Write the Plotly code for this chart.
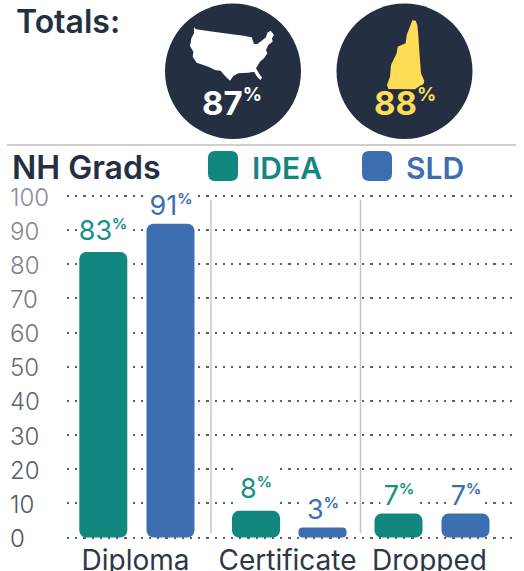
import plotly.graph_objects as go

# ---- data ----
groups = ["Diploma", "Certificate", "Dropped"]
idea_values = [83.6, 7.8, 7.0]
sld_values = [91.9, 2.9, 7.0]
idea_labels = ["83", "8", "7"]
sld_labels = ["91", "3", "7"]
totals_labels = ["87", "88"]
y_ticks = [100, 90, 80, 70, 60, 50, 40, 30, 20, 10, 0]
y_tick_colors = ["#8b8b98", "#858692", "#7d7e8b", "#767785", "#6f717f", "#686a79",
                 "#626574", "#5c5f6e", "#565a6a", "#515566", "#4c5062"]

# ---- layout constants (pixel geometry of the page) ----
W, H = 524, 571
L, R, T, B = 67, 513, 192, 541
Y100, Y0 = 196, 537.5
PX_PER_UNIT = (Y0 - Y100) / 100
DARK, TEAL, BLUE, YELLOW = "#252f42", "#128780", "#3d6eb0", "#ffdc55"
TEAL_TXT = "#149187"
FONT = "Inter"
idea_x = [103.3, 256, 398.5]
sld_x = [170.5, 322.5, 465.5]
tick_x = [135.5, 287.5, 429.5]
idea_gap = [10, 11, 7]
sld_gap = [7, 7, 7]


def px(x):
    return (x - L) / (R - L)


def py(y):
    return (B - y) / (B - T)


def path(points):
    return "M " + " L ".join(f"{px(x):.4f},{py(y):.4f}" for x, y in points) + " Z"


def rrect(x0, y0, x1, y1, r):
    a, b, c, d = px(x0), py(y0), px(x1), py(y1)
    rx, ry = r / (R - L), r / (B - T)
    return (f"M {a+rx},{b} L {c-rx},{b} Q {c},{b} {c},{b-ry} L {c},{d+ry} Q {c},{d} {c-rx},{d} "
            f"L {a+rx},{d} Q {a},{d} {a},{d+ry} L {a},{b-ry} Q {a},{b} {a+rx},{b} Z")


us_outline = [(42, 22), (48, 28), (100, 35), (150, 42), (190, 47), (215, 52), (222, 72), (232, 72),
              (245, 62), (258, 52), (262, 38), (272, 32), (282, 45), (276, 55), (278, 65), (265, 75),
              (258, 90), (262, 100), (252, 115), (240, 125), (228, 145), (238, 162), (246, 172),
              (242, 180), (232, 172), (222, 155), (205, 158), (175, 160), (160, 168), (150, 182),
              (135, 168), (122, 152), (105, 150), (85, 140), (50, 128), (38, 110), (40, 95), (30, 78),
              (34, 55), (42, 40)]
nh_outline = [(112, 16), (122, 17), (127, 30), (130, 60), (133, 110), (138, 175), (148, 198), (145, 208),
              (135, 212), (120, 223), (40, 222), (36, 210), (45, 185), (48, 150), (65, 115), (68, 95),
              (92, 85), (95, 60), (103, 40)]
us_px = [(180 + x / 3, 20 + y / 3) for x, y in us_outline]
nh_px = [(375 + x / 3, 15 + y / 3) for x, y in nh_outline]

fig = go.Figure()
for xs, vals, color in ((idea_x, idea_values, TEAL), (sld_x, sld_values, BLUE)):
    fig.add_trace(go.Bar(x=xs, y=vals, base=[0] * len(vals), width=48, marker_color=color, marker_line_width=0,
                         marker_cornerradius=7, hoverinfo="skip", showlegend=False))

shapes = []
for cx in (233, 404.5):
    shapes.append(dict(type="circle", xref="paper", yref="paper", x0=px(cx - 68), x1=px(cx + 68),
                       y0=py(139), y1=py(3.5), fillcolor=DARK, line_width=0))
shapes.append(dict(type="path", xref="paper", yref="paper", path=path(us_px), fillcolor="white", line_width=0))
shapes.append(dict(type="path", xref="paper", yref="paper", path=path(nh_px), fillcolor=YELLOW, line_width=0))
shapes.append(dict(type="line", xref="paper", yref="paper", x0=px(7), x1=px(516), y0=py(145), y1=py(145),
                   line=dict(color="#cfcfcf", width=2)))
shapes.append(dict(type="path", xref="paper", yref="paper", path=rrect(208, 151, 238, 181, 7), fillcolor=TEAL, line_width=0))
shapes.append(dict(type="path", xref="paper", yref="paper", path=rrect(362, 151, 392, 181, 7), fillcolor=BLUE, line_width=0))
for sx in (211, 360.5):
    shapes.append(dict(type="line", xref="paper", yref="paper", x0=px(sx), x1=px(sx), y0=py(533), y1=py(200),
                       line=dict(color="#c4c4c4", width=1.5), layer="below"))


def note(x, y, text, size, color, anchor="left", weight=400, **kw):
    return dict(xref="paper", yref="paper", x=px(x), y=py(y), text=text, showarrow=False,
                xanchor=anchor, yanchor="middle", font=dict(family=FONT, size=size, color=color, weight=weight),
                borderpad=0, **kw)


def pct(size):
    return f'<sup><span style="font-size:{size}px;font-weight:bold">%</span></sup>'


ann = [
    note(15, 21, "Totals:", 32, DARK, weight=600),
    note(11, 168, "NH Grads", 32, DARK, weight=600),
    note(251, 168, "IDEA", 30, TEAL, weight=600),
    note(405, 168, "SLD", 30, BLUE, weight=600),
    note(232, 103, totals_labels[0] + pct(19), 33, "white", anchor="center", weight=700),
    note(405, 103, totals_labels[1] + pct(19), 33, YELLOW, anchor="center", weight=700),
]

for xs, vals, labels, gaps, color in ((idea_x, idea_values, idea_labels, idea_gap, TEAL_TXT),
                                      (sld_x, sld_values, sld_labels, sld_gap, BLUE)):
    for x, v, lab, gap in zip(xs, vals, labels, gaps):
        top = Y0 - v * PX_PER_UNIT
        ann.append(dict(xref="paper", yref="paper", x=px(x), y=py(top - gap + 6), text=lab + pct(15),
                        showarrow=False, xanchor="center", yanchor="bottom",
                        font=dict(family=FONT, size=27, color=color),
                        bgcolor="white", borderpad=0, height=40, width=36 if len(lab) == 1 else 48, valign="bottom"))

for t, c in zip(y_ticks, y_tick_colors):
    ann.append(dict(xref="paper", yref="y", x=px(8), y=t, yshift=-1, text=str(t), showarrow=False, xanchor="left",
                    yanchor="middle", font=dict(family=FONT, size=24, color=c, weight=300)))

fig.update_layout(
    width=W, height=H, margin=dict(l=L, r=W - R, t=T, b=H - B, autoexpand=False),
    paper_bgcolor="white", plot_bgcolor="white", barmode="overlay", showlegend=False,
    shapes=shapes, annotations=ann,
    xaxis=dict(range=[L, R], tickmode="array", tickvals=tick_x, ticktext=groups, showgrid=False, zeroline=False,
               showline=False, ticks="", ticklabelstandoff=0, automargin=False, tickangle=0,
               tickfont=dict(family=FONT, size=28, color="#2e3749")),
    yaxis=dict(range=[(Y0 - B) / PX_PER_UNIT, (Y0 - T) / PX_PER_UNIT], tickmode="array", tickvals=y_ticks,
               showticklabels=False, showgrid=True, gridcolor="#5a5f6e", gridwidth=2.2, griddash="2.2px,6px",
               zeroline=False, showline=False, ticks="", automargin=False),
)

fig.write_html("out.html", config={"displayModeBar": False}, post_script="document.body.style.margin='0';")
